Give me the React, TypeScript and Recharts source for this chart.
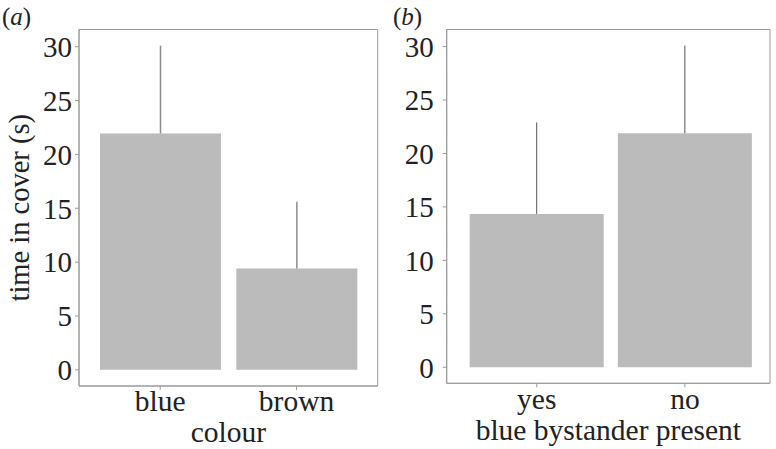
import { Bar, BarChart, CartesianGrid, ErrorBar, XAxis, YAxis } from 'recharts'

const colourCats = ['blue', 'brown']
const colourMeans = [21.95, 9.4]
const colourUpper = [30.1, 15.6]

const bystanderCats = ['yes', 'no']
const bystanderMeans = [14.35, 21.9]
const bystanderUpper = [22.9, 30.1]

const yTicks = [0, 5, 10, 15, 20, 25, 30]

const FONT = "'Liberation Serif', 'DejaVu Serif', serif"
const GREY = '#9a9a9a'
const BAR = '#bbbbbb'
const INK = '#222'

const colourData = colourCats.map((cat, i) => ({
  cat,
  mean: colourMeans[i],
  err: [0, colourUpper[i] - colourMeans[i]],
}))

const bystanderData = bystanderCats.map((cat, i) => ({
  cat,
  mean: bystanderMeans[i],
  err: [0, bystanderUpper[i] - bystanderMeans[i]],
}))

function YLabel({ viewBox }: any) {
  const cx = viewBox.x + 19
  const cy = viewBox.y + viewBox.height / 2
  return (
    <text
      x={cx}
      y={cy}
      transform={`rotate(-90 ${cx} ${cy})`}
      textAnchor="middle"
      dominantBaseline="central"
      fontSize={28.5}
      style={{ fontFamily: FONT }}
      fill={INK}
    >
      time in cover (s)
    </text>
  )
}

interface PanelProps {
  data: { cat: string; mean: number; err: number[] }[]
  width: number
  yAxisWidth: number
  xAxisHeight: number
  marginRight: number
  padding: { left: number; right: number }
  barSize: number
  tickMargin: number
  xTickMargin: number
  xTitle: string
  xTitleOffset: number
  errColour: string
  errWidth: number
  withYLabel?: boolean
}

// plot-area frame, taken from the chart's own offset
const frameY = ({ offset }: any) => [offset.top, offset.top + offset.height]
const frameX = ({ offset }: any) => [offset.left, offset.left + offset.width]

function Panel(p: PanelProps) {
  const tick = { fontSize: 29, fill: INK, style: { fontFamily: FONT } }
  return (
    <BarChart
      width={p.width}
      height={449}
      data={p.data}
      margin={{ top: 29.5, right: p.marginRight, bottom: 0, left: 0 }}
      style={{ fontFamily: FONT }}
    >
      <CartesianGrid
        stroke={GREY}
        horizontalCoordinatesGenerator={frameY}
        verticalCoordinatesGenerator={frameX}
      />
      <XAxis
        dataKey="cat"
        height={p.xAxisHeight}
        padding={p.padding}
        tick={{ ...tick, fontSize: 29.5 }}
        tickSize={4}
        tickMargin={p.xTickMargin}
        axisLine={{ stroke: GREY }}
        tickLine={{ stroke: GREY }}
        label={{
          value: p.xTitle,
          position: 'insideBottom',
          offset: p.xTitleOffset,
          fontSize: 29.5,
          fill: INK,
          style: { fontFamily: FONT },
        }}
      />
      <YAxis
        type="number"
        domain={[-1.5, 31.6]}
        ticks={yTicks}
        width={p.yAxisWidth}
        tick={tick}
        tickSize={4}
        tickMargin={p.tickMargin}
        axisLine={{ stroke: GREY }}
        tickLine={{ stroke: GREY }}
        allowDataOverflow
        label={p.withYLabel ? <YLabel /> : undefined}
      />
      <Bar dataKey="mean" fill={BAR} barSize={p.barSize} isAnimationActive={false}>
        <ErrorBar
          dataKey="err"
          direction="y"
          width={0}
          stroke={p.errColour}
          strokeWidth={p.errWidth}
          isAnimationActive={false}
        />
      </Bar>
    </BarChart>
  )
}

export default function App() {
  const panelTag = {
    position: 'absolute' as const,
    top: 4,
    fontSize: 25,
    lineHeight: '25px',
    fontFamily: FONT,
    color: INK,
  }
  return (
    <div
      style={{
        position: 'fixed',
        left: 0,
        top: 0,
        width: 776,
        height: 449,
        background: '#fff',
        overflow: 'hidden',
        fontFamily: FONT,
      }}
    >
      <div style={{ position: 'absolute', left: 0, top: 0 }}>
        <Panel
          data={colourData}
          width={400}
          yAxisWidth={79}
          xAxisHeight={63}
          marginRight={22.3}
          padding={{ left: 13, right: 13 }}
          barSize={121}
          tickMargin={3}
          xTickMargin={0}
          xTitle="colour"
          xTitleOffset={7.5}
          errColour="#8c8c8c"
          errWidth={1.5}
          withYLabel
        />
      </div>
      <div style={{ position: 'absolute', left: 380, top: 0 }}>
        <Panel
          data={bystanderData}
          width={396}
          yAxisWidth={66.7}
          xAxisHeight={65.7}
          marginRight={6}
          padding={{ left: 16, right: 11 }}
          barSize={134}
          tickMargin={9}
          xTickMargin={1}
          xTitle="blue bystander present"
          xTitleOffset={9}
          errColour="#555"
          errWidth={1}
        />
      </div>
      <div style={{ ...panelTag, left: 2 }}>
        (<i>a</i>)
      </div>
      <div style={{ ...panelTag, left: 393 }}>
        (<i>b</i>)
      </div>
    </div>
  )
}
